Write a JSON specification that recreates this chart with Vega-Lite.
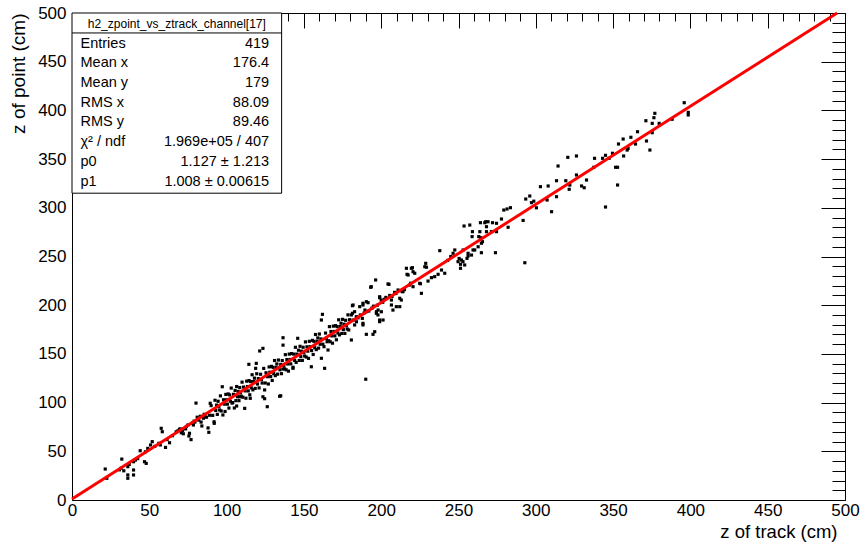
{
"$schema": "https://vega.github.io/schema/vega-lite/v6.json",
"width": 773, "height": 487,
"autosize": {"type": "none"},
"padding": {"left": 72, "top": 13, "right": 16, "bottom": 46},
"background": "white",
"config": {"view": {"stroke": "black", "strokeWidth": 1}, "font": "Liberation Sans", "axis": {"grid": false}},
"datasets": {
"pts": [
{"x":21.5,"y":31.8},{"x":22.5,"y":22.3},{"x":30.7,"y":31.0},{"x":31.8,"y":32.7},{"x":32.2,"y":42.0},{"x":33.5,"y":30.0},{"x":36.1,"y":34.2},{"x":36.1,"y":25.7},{"x":36.1,"y":22.3},{"x":37.0,"y":36.5},{"x":39.8,"y":39.3},{"x":39.8,"y":30.8},{"x":39.8,"y":25.7},{"x":41.0,"y":41.0},{"x":42.5,"y":42.5},{"x":44.1,"y":50.6},{"x":46.9,"y":39.3},{"x":48.0,"y":37.6},{"x":49.0,"y":53.0},{"x":47.5,"y":49.5},
{"x":50.8,"y":56.5},{"x":51.9,"y":59.9},{"x":53.5,"y":55.0},{"x":56.2,"y":58.2},{"x":57.1,"y":56.5},{"x":57.7,"y":73.6},{"x":58.4,"y":70.1},{"x":60.5,"y":54.0},{"x":63.1,"y":58.8},{"x":61.5,"y":62.0},{"x":65.0,"y":66.0},{"x":67.4,"y":70.0},{"x":68.5,"y":71.0},{"x":69.5,"y":72.5},
{"x":70.0,"y":73.0},{"x":70.7,"y":69.0},{"x":71.5,"y":71.5},{"x":72.0,"y":68.0},{"x":73.5,"y":73.0},{"x":74.0,"y":75.5},{"x":75.0,"y":77.0},{"x":75.6,"y":65.7},{"x":76.0,"y":68.5},{"x":77.0,"y":62.0},{"x":78.0,"y":79.0},{"x":78.5,"y":77.0},{"x":79.0,"y":81.0},{"x":79.5,"y":80.0},{"x":80.2,"y":99.5},
{"x":81.0,"y":85.0},{"x":81.5,"y":83.0},{"x":82.0,"y":82.0},{"x":83.0,"y":86.0},{"x":83.5,"y":80.0},{"x":84.0,"y":76.0},{"x":85.0,"y":84.0},{"x":85.5,"y":88.0},{"x":86.0,"y":86.5},{"x":87.0,"y":85.0},{"x":88.0,"y":74.0},{"x":88.5,"y":69.5},{"x":89.0,"y":87.0},{"x":89.4,"y":99.3},
{"x":90,"y":96.9},{"x":91,"y":86.9},{"x":91.9,"y":80.3},{"x":92,"y":78.7},{"x":92.5,"y":102.4},{"x":93,"y":91.9},{"x":93.5,"y":97.4},{"x":94,"y":87.9},{"x":94.5,"y":101.4},{"x":95,"y":95.9},{"x":95.5,"y":92.4},{"x":96,"y":106.9},{"x":96.5,"y":91.4},{"x":97.2,"y":116.3},{"x":97.6,"y":87.3},{"x":98,"y":102.9},{"x":98.5,"y":98.4},{"x":99,"y":90.9},{"x":99.5,"y":108.4},
{"x":100,"y":102.9},{"x":100.5,"y":98.4},{"x":101,"y":108.9},{"x":101.5,"y":94.4},{"x":102,"y":107.9},{"x":102.5,"y":101.4},{"x":103,"y":114.9},{"x":103.5,"y":99.5},{"x":104,"y":100},{"x":104.5,"y":108.5},{"x":105,"y":94.5},{"x":105.5,"y":112.5},{"x":106,"y":102.0},{"x":106.5,"y":116.5},{"x":106.5,"y":96.5},{"x":107,"y":106.0},{"x":107.5,"y":111.5},{"x":108,"y":102.0},{"x":108.4,"y":106},{"x":108.5,"y":115.5},{"x":109,"y":110.0},{"x":109.5,"y":106.5},
{"x":110,"y":121.0},{"x":110.5,"y":105.5},{"x":111,"y":116.0},{"x":111.7,"y":94.1},{"x":112,"y":112.0},{"x":112.5,"y":104.5},{"x":113,"y":122.0},{"x":113.5,"y":116.5},{"x":114,"y":112.0},{"x":114.4,"y":139.3},{"x":114.5,"y":122.6},{"x":115,"y":108.0},{"x":115.3,"y":104.4},{"x":115.5,"y":121.6},{"x":116,"y":115.1},{"x":116.5,"y":128.6},{"x":117,"y":113.1},{"x":117.5,"y":121.6},{"x":118,"y":125.1},{"x":118.5,"y":114.6},{"x":118.8,"y":135.2},{"x":119.2,"y":140.3},{"x":119.5,"y":129.6},
{"x":120,"y":119.1},{"x":120.5,"y":124.6},{"x":121,"y":115.1},{"x":121.4,"y":153},{"x":122,"y":129.1},{"x":122.5,"y":123.6},{"x":123,"y":120.1},{"x":123.5,"y":106},{"x":123.5,"y":155.7},{"x":124,"y":135.1},{"x":124.6,"y":113},{"x":124.6,"y":104},{"x":125,"y":120.1},{"x":125.5,"y":130.6},{"x":126.3,"y":95.8},{"x":126.5,"y":126.6},{"x":127,"y":119.1},{"x":127.5,"y":136.6},{"x":128,"y":131.2},{"x":128.5,"y":126.7},{"x":129,"y":137.2},{"x":129.5,"y":122.7},
{"x":130,"y":136.2},{"x":130.5,"y":129.7},{"x":131,"y":143.2},{"x":131.5,"y":127.7},{"x":132,"y":136.2},{"x":132.5,"y":139.7},{"x":133,"y":129.2},{"x":133.5,"y":143.7},{"x":134.3,"y":106.5},{"x":134.5,"y":133.7},{"x":135,"y":139.2},{"x":135,"y":107},{"x":135.5,"y":129.7},{"x":136,"y":143.2},{"x":136.5,"y":166.6},{"x":136.5,"y":159},{"x":136.5,"y":134.5},{"x":137,"y":138.2},{"x":137.5,"y":134.7},{"x":138,"y":149.2},{"x":138.5,"y":133.7},{"x":139,"y":144.2},{"x":139.5,"y":139.7},
{"x":140,"y":132.3},{"x":140.5,"y":149.8},{"x":141,"y":144.3},{"x":141.5,"y":139.8},{"x":142,"y":150.3},{"x":142.9,"y":135.2},{"x":143,"y":136.3},{"x":143.5,"y":149.8},{"x":144,"y":143.3},{"x":144.5,"y":156.8},{"x":145,"y":141.3},{"x":145.5,"y":149.8},{"x":146,"y":166},{"x":146.5,"y":153.8},{"x":147,"y":143.3},{"x":147.5,"y":157.8},{"x":148,"y":147.3},{"x":148.5,"y":152.8},{"x":149,"y":143.3},{"x":149.5,"y":156.8},
{"x":150,"y":151.3},{"x":150.5,"y":147.8},{"x":151,"y":162.3},{"x":151.5,"y":146.8},{"x":152,"y":157.3},{"x":152.5,"y":152.8},{"x":153,"y":145.4},{"x":153.5,"y":162.9},{"x":154,"y":157.4},{"x":154.8,"y":136.8},{"x":155,"y":153.4},{"x":155.5,"y":163.9},{"x":156,"y":149.4},{"x":156.5,"y":162.9},{"x":157,"y":156.4},{"x":157.5,"y":169.9},{"x":158,"y":154.4},{"x":158.5,"y":162.9},{"x":159,"y":166.4},{"x":159.5,"y":155.9},
{"x":160,"y":170.4},{"x":160.5,"y":159.9},{"x":161,"y":165.4},{"x":161.3,"y":145.5},{"x":161.3,"y":184.8},{"x":162,"y":190.6},{"x":162.3,"y":160},{"x":163,"y":157.4},{"x":163.4,"y":135.2},{"x":164,"y":171.4},{"x":164.5,"y":165.9},{"x":165,"y":162.5},{"x":165.6,"y":154},{"x":166,"y":163.5},{"x":166.5,"y":178.0},{"x":167,"y":162.5},{"x":167.5,"y":173.0},{"x":168,"y":168.5},{"x":168.5,"y":161.0},{"x":169,"y":178.5},{"x":169.5,"y":173.0},
{"x":170,"y":168.5},{"x":170.5,"y":179.0},{"x":171,"y":164.5},{"x":171.5,"y":178.0},{"x":172,"y":171.5},{"x":172.5,"y":185.0},{"x":173,"y":169.5},{"x":173.5,"y":178.0},{"x":174,"y":181.5},{"x":174.5,"y":171.0},{"x":175,"y":185.5},{"x":175.5,"y":175.0},{"x":176,"y":180.5},{"x":176.5,"y":171.0},{"x":177,"y":184.5},{"x":177.5,"y":179.0},{"x":178,"y":175.6},{"x":178.5,"y":190.1},{"x":179,"y":174.6},{"x":179.5,"y":185.1},
{"x":180.7,"y":164.3},{"x":180.7,"y":190.0},{"x":181.4,"y":199.5},{"x":181.4,"y":191.7},{"x":181.8,"y":200.2},{"x":181.8,"y":184.8},{"x":182.8,"y":193.3},{"x":182.8,"y":179.7},{"x":183.9,"y":188.2},{"x":184.0,"y":183.0},{"x":185.0,"y":187.0},{"x":186.1,"y":198.5},{"x":186.5,"y":190.0},{"x":187.8,"y":186.5},{"x":188.2,"y":179.7},{"x":188.2,"y":181.4},{"x":188.2,"y":200.2},{"x":188.2,"y":202.0},{"x":189.0,"y":192.0},{"x":189.5,"y":195.0},
{"x":190.0,"y":124.0},{"x":190.4,"y":193.3},{"x":190.4,"y":170.1},{"x":190.4,"y":203.6},{"x":191.5,"y":202.6},{"x":192.0,"y":194.0},{"x":193.2,"y":218.4},{"x":193.6,"y":219.0},{"x":194.0,"y":197.0},{"x":194.7,"y":170.1},{"x":195.0,"y":199.0},{"x":195.8,"y":172.8},{"x":196.4,"y":225.9},{"x":196.9,"y":193.3},{"x":196.9,"y":191.7},{"x":197.5,"y":200.0},{"x":197.9,"y":190.0},{"x":198.0,"y":195.0},{"x":199.0,"y":207.7},{"x":199.0,"y":208.7},{"x":199.0,"y":184.8},{"x":199.0,"y":183.1},
{"x":200.0,"y":205.3},{"x":200.1,"y":193.3},{"x":201.2,"y":184.8},{"x":201.0,"y":203.0},{"x":202.0,"y":206.0},{"x":203.0,"y":208.0},{"x":204.4,"y":221.8},{"x":205.0,"y":221.4},{"x":205.5,"y":210.0},{"x":206.6,"y":200.2},{"x":206.6,"y":205.3},{"x":207.0,"y":209.0},{"x":207.6,"y":195.0},{"x":208.7,"y":213.2},{"x":209.5,"y":212.0},{"x":209.8,"y":198.5},
{"x":210.9,"y":215.6},{"x":212.0,"y":198.5},{"x":212.0,"y":207.1},{"x":213.0,"y":205.3},{"x":213.5,"y":214.0},{"x":214.1,"y":213.9},{"x":215.0,"y":216.0},{"x":216.3,"y":237.9},{"x":216.7,"y":231.7},{"x":217.4,"y":231.0},{"x":218.4,"y":220.7},{"x":219.0,"y":222.5},{"x":219.5,"y":237.9},
{"x":220.2,"y":238.5},{"x":220.6,"y":234.4},{"x":220.6,"y":219.0},{"x":221.7,"y":232.8},{"x":224.9,"y":222.5},{"x":225.4,"y":222.0},{"x":226.0,"y":212.2},{"x":228.2,"y":239.5},{"x":228.8,"y":243.0},{"x":229.3,"y":239.0},
{"x":230.3,"y":224.8},{"x":232.5,"y":228.3},{"x":234.6,"y":229.3},{"x":236.8,"y":231.7},{"x":237.9,"y":256.0},{"x":239.0,"y":236.1},
{"x":241.1,"y":232.8},{"x":243.0,"y":246.0},{"x":245.0,"y":250.0},{"x":246.5,"y":253.3},{"x":247.6,"y":256.7},{"x":249.7,"y":244.7},
{"x":250.4,"y":248.0},{"x":251.3,"y":237.9},{"x":251.3,"y":242.0},{"x":251.9,"y":246.4},{"x":252.9,"y":244.7},{"x":253.0,"y":256.7},{"x":253.6,"y":281.3},{"x":254.0,"y":241.3},{"x":255.5,"y":248.1},{"x":256.2,"y":253.3},{"x":256.2,"y":250.5},{"x":257.3,"y":282.3},{"x":258.4,"y":251.5},{"x":258.8,"y":270.4},{"x":259.4,"y":256.7},{"x":259.0,"y":275.5},
{"x":260.5,"y":256.7},{"x":262.7,"y":260.0},{"x":263.1,"y":270.4},{"x":263.8,"y":275.5},{"x":264.2,"y":284.7},{"x":264.4,"y":269.3},{"x":264.8,"y":253.9},{"x":264.8,"y":263.6},{"x":265.5,"y":265.2},{"x":267.0,"y":284.7},{"x":267.6,"y":285.7},{"x":268.1,"y":275.5},{"x":268.1,"y":280.6},{"x":269.1,"y":285.7},
{"x":271.3,"y":275.5},{"x":272.0,"y":284.7},{"x":273.9,"y":253.9},{"x":274.6,"y":284.1},{"x":274.6,"y":275.5},{"x":277.8,"y":288.5},{"x":279.3,"y":297.7},
{"x":281.4,"y":298.8},{"x":282.1,"y":280.0},{"x":283.6,"y":300.1},{"x":291.8,"y":287.0},{"x":292.9,"y":243.6},{"x":293.5,"y":309.0},{"x":296.1,"y":312.1},{"x":297.2,"y":305.3},{"x":298.7,"y":306.8},{"x":300.4,"y":300.0},
{"x":303.0,"y":321.7},{"x":307.3,"y":308.0},{"x":308.0,"y":322.4},{"x":310.2,"y":296.0},{"x":313.4,"y":327.8},{"x":313.4,"y":311.4},{"x":314.4,"y":342.9},{"x":319.4,"y":327.8},{"x":320.7,"y":351.8},{"x":321.6,"y":319.0},{"x":322.0,"y":323.4},{"x":326.3,"y":333.7},{"x":326.3,"y":353.2},{"x":329.6,"y":322.4},
{"x":331.3,"y":320.6},{"x":332.8,"y":328.5},{"x":337.5,"y":341.6},{"x":338.0,"y":350.8},{"x":343.2,"y":350.8},{"x":345.1,"y":353.9},{"x":345.1,"y":300.8},{"x":347.4,"y":350.8},{"x":349.6,"y":356.0},{"x":351.6,"y":341.6},{"x":352.9,"y":341.6},{"x":352.9,"y":323.4},{"x":353.5,"y":365.5},{"x":356.5,"y":370.6},{"x":356.8,"y":353.2},{"x":359.1,"y":359.3},{"x":359.7,"y":361.0},
{"x":361.5,"y":372.4},{"x":364.5,"y":365.5},{"x":365.8,"y":378.1},{"x":371.2,"y":389.4},{"x":371.6,"y":368.6},{"x":373.8,"y":359.3},{"x":375.3,"y":386.7},{"x":375.3,"y":377.1},{"x":376.4,"y":392.5},{"x":377.0,"y":397.0},{"x":379.8,"y":386.7},{"x":388.2,"y":390.9},{"x":396.0,"y":407.9},{"x":398.6,"y":398.0},{"x":398.6,"y":395.3}
],
"fit": [{"x": 0, "y": 1.127}, {"x": 494.9, "y": 500}],
"stats": [
{"label": "Entries", "value": "419"},
{"label": "Mean x", "value": "176.4"},
{"label": "Mean y", "value": "179"},
{"label": "RMS x", "value": "88.09"},
{"label": "RMS y", "value": "89.46"},
{"label": "χ² / ndf", "value": "1.969e+05 / 407"},
{"label": "p0", "value": "1.127 ± 1.213"},
{"label": "p1", "value": "1.008 ± 0.00615"}
],
"head": [{"name": "h2_zpoint_vs_ztrack_channel[17]"}]
},
"layer": [
{
"layer": [
{
"data": {"name": "pts"},
"mark": {"type": "square", "size": 10, "color": "black", "opacity": 1, "filled": true},
"encoding": {
"x": {"field": "x", "type": "quantitative", "scale": {"domain": [0, 500], "nice": false, "zero": false},
"axis": {"values": [0,50,100,150,200,250,300,350,400,450,500], "ticks": false, "domain": true, "domainColor": "black", "labelFontSize": 17, "labelPadding": 2, "labelColor": "black", "labelFlush": false, "labelOverlap": false, "title": "z of track (cm)", "titleX": 765, "titleAlign": "right", "titleFontSize": 18.5, "titleFontWeight": "normal", "titleColor": "black", "titlePadding": 4}},
"y": {"field": "y", "type": "quantitative", "scale": {"domain": [0, 500], "nice": false, "zero": false},
"axis": {"values": [0,50,100,150,200,250,300,350,400,450,500], "ticks": false, "domain": true, "domainColor": "black", "labelFontSize": 17, "labelPadding": 6, "labelColor": "black", "labelFlush": false, "labelOverlap": false, "title": "z of point (cm)", "titleAnchor": "end", "titleFontSize": 19, "titleFontWeight": "normal", "titleColor": "black", "titlePadding": 9}}
}
},
{
"data": {"name": "fit"},
"mark": {"type": "line", "color": "#ff0000", "strokeWidth": 3},
"encoding": {
"x": {"field": "x", "type": "quantitative",
"axis": {"values": [0,50,100,150,200,250,300,350,400,450,500], "labels": false, "domain": false, "ticks": true, "tickSize": 15, "offset": -15, "tickColor": "black", "title": null}},
"y": {"field": "y", "type": "quantitative",
"axis": {"values": [0,50,100,150,200,250,300,350,400,450,500], "labels": false, "domain": false, "ticks": true, "tickSize": 24, "offset": -24, "tickColor": "black", "title": null}}
}
},
{
"data": {"name": "head"},
"mark": {"type": "rect", "fill": "white", "stroke": "black", "strokeWidth": 1},
"encoding": {
"x": {"datum": 0, "type": "quantitative",
"axis": {"values": [10,20,30,40,60,70,80,90,110,120,130,140,160,170,180,190,210,220,230,240,260,270,280,290,310,320,330,340,360,370,380,390,410,420,430,440,460,470,480,490], "labels": false, "domain": false, "ticks": true, "tickSize": 8, "offset": -8, "tickColor": "black", "title": null}},
"x2": {"datum": 135.6},
"y": {"datum": 315, "type": "quantitative",
"axis": {"values": [10,20,30,40,60,70,80,90,110,120,130,140,160,170,180,190,210,220,230,240,260,270,280,290,310,320,330,340,360,370,380,390,410,420,430,440,460,470,480,490], "labels": false, "domain": false, "ticks": true, "tickSize": 13, "offset": -13, "tickColor": "black", "title": null}},
"y2": {"datum": 500}
}
},
{
"data": {"name": "head"},
"mark": {"type": "rule", "color": "black", "strokeWidth": 1},
"encoding": {
"x": {"datum": 0, "type": "quantitative", "axis": null},
"x2": {"datum": 135.6},
"y": {"datum": 479.5, "type": "quantitative", "axis": null}
}
},
{
"data": {"name": "head"},
"mark": {"type": "text", "fontSize": 12, "color": "black", "align": "center", "baseline": "middle", "font": "Liberation Sans"},
"encoding": {
"x": {"datum": 67.8, "type": "quantitative", "axis": null},
"y": {"datum": 489, "type": "quantitative", "axis": null},
"text": {"field": "name"}
}
}
],
"resolve": {"axis": {"x": "independent", "y": "independent"}}
},
{
"data": {"name": "stats"},
"layer": [
{
"mark": {"type": "text", "fontSize": 14.5, "color": "black", "align": "left", "baseline": "middle", "font": "Liberation Sans"},
"encoding": {
"x": {"datum": 5.5, "type": "quantitative", "axis": null},
"y": {"field": "label", "type": "ordinal", "sort": null, "scale": {"type": "point", "range": [30.5, 168.5], "padding": 0}, "axis": null},
"text": {"field": "label"}
}
},
{
"mark": {"type": "text", "fontSize": 14.5, "color": "black", "align": "right", "baseline": "middle", "font": "Liberation Sans"},
"encoding": {
"x": {"datum": 127.5, "type": "quantitative", "axis": null},
"y": {"field": "label", "type": "ordinal", "sort": null, "scale": {"type": "point", "range": [30.5, 168.5], "padding": 0}, "axis": null},
"text": {"field": "value"}
}
}
]
}
],
"resolve": {"scale": {"y": "independent"}, "axis": {"x": "independent", "y": "independent"}}
}
